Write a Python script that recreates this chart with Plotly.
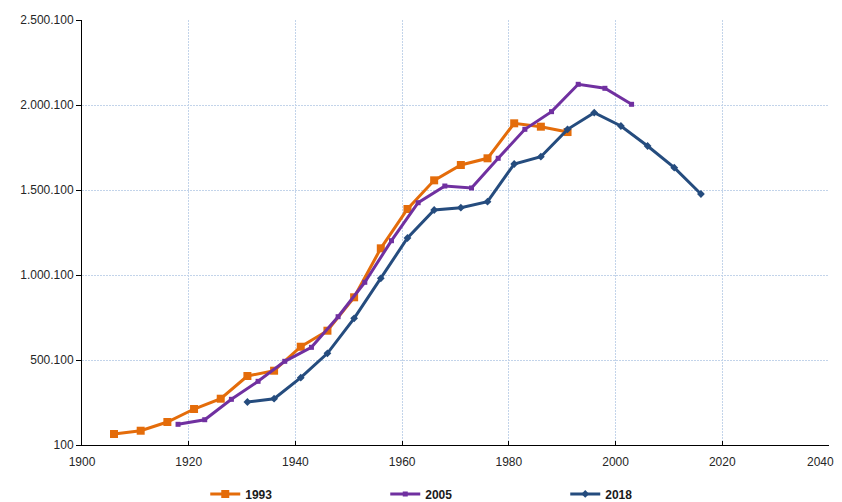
import plotly.graph_objects as go

years_1993 = [1906, 1911, 1916, 1921, 1926, 1931, 1936, 1941, 1946, 1951,
              1956, 1961, 1966, 1971, 1976, 1981, 1986, 1991]
values_1993 = [64700, 84100, 135300, 211800, 272400, 405900, 437100, 578200, 672400, 868900,
               1157000, 1388200, 1557000, 1647200, 1686600, 1892400, 1872500, 1841000]

years_2005 = [1918, 1923, 1928, 1933, 1938, 1943, 1948, 1953, 1958, 1963,
              1968, 1973, 1978, 1983, 1988, 1993, 1998, 2003]
values_2005 = [121800, 148800, 268800, 374700, 492400, 574700, 754800, 957200, 1201800, 1425300,
               1523600, 1511900, 1686600, 1857200, 1960900, 2121800, 2098300, 2004200]

years_2018 = [1931, 1936, 1941, 1946, 1951, 1956, 1961, 1966, 1971, 1976,
              1981, 1986, 1991, 1996, 2001, 2006, 2011, 2016]
values_2018 = [253000, 272400, 396000, 539500, 745400, 980700, 1217700, 1382500, 1396000, 1431300,
               1653000, 1696000, 1857000, 1955000, 1876600, 1759000, 1631400, 1476600]

y_tickvals = [100, 500100, 1000100, 1500100, 2000100, 2500100]
y_ticktext = ["100", "500.100", "1.000.100", "1.500.100", "2.000.100", "2.500.100"]
x_tickvals = [1900, 1920, 1940, 1960, 1980, 2000, 2020, 2040]
x_ticktext = ["1900", "1920", "1940", "1960", "1980", "2000", "2020", ""]
x_last_label = "2040"

series = [
    ("1993", years_1993, values_1993, "#E46C0A", "square", 8),
    ("2005", years_2005, values_2005, "#7030A0", "square", 5),
    ("2018", years_2018, values_2018, "#254C7E", "diamond", 6),
]

fig = go.Figure()
for name, xs, ys, color, sym, size in series:
    fig.add_trace(go.Scatter(
        x=xs, y=ys, name=name, mode="lines+markers",
        line=dict(color=color, width=3),
        marker=dict(symbol=sym, size=size, color=color),
    ))

grid = "#c3d4ea"
font_family = "Liberation Sans, Arial, sans-serif"
tick_color = "#262626"
# page has an 8px body margin, so the figure is sized 834x494
fig.update_layout(
    width=834, height=494,
    margin=dict(l=74, r=13, t=12, b=57, autoexpand=False),
    paper_bgcolor="white", plot_bgcolor="white",
    font=dict(family=font_family, size=12, color=tick_color),
    showlegend=True,
    legend=dict(
        orientation="h", x=0.165, xanchor="left", y=-0.115, yanchor="middle",
        entrywidth=135, entrywidthmode="pixels", itemwidth=30,
        font=dict(size=12, color="#1a1a1a", family=font_family, weight="bold"),
        bgcolor="rgba(0,0,0,0)",
    ),
    xaxis=dict(
        range=[1900, 2040], tickvals=x_tickvals, ticktext=x_ticktext,
        showgrid=True, gridcolor=grid, griddash="2px,1px", gridwidth=1,
        showline=True, linecolor="black", linewidth=1,
        ticks="inside", ticklen=4, tickcolor="black",
        ticklabelstandoff=6,
        zeroline=False, fixedrange=True,
    ),
    yaxis=dict(
        range=[100, 2500100], tickvals=y_tickvals, ticktext=y_ticktext,
        showgrid=True, gridcolor=grid, griddash="2px,1px", gridwidth=1,
        showline=True, linecolor="black", linewidth=1,
        ticks="outside", ticklen=5, tickcolor="black",
        zeroline=False, fixedrange=True,
    ),
    annotations=[dict(
        text=x_last_label, x=x_tickvals[-1], xref="x", y=0, yref="paper",
        xanchor="right", yanchor="middle", xshift=7, yshift=-17,
        showarrow=False, font=dict(family=font_family, size=12, color=tick_color),
    )],
)

fig.write_html("out.html")
